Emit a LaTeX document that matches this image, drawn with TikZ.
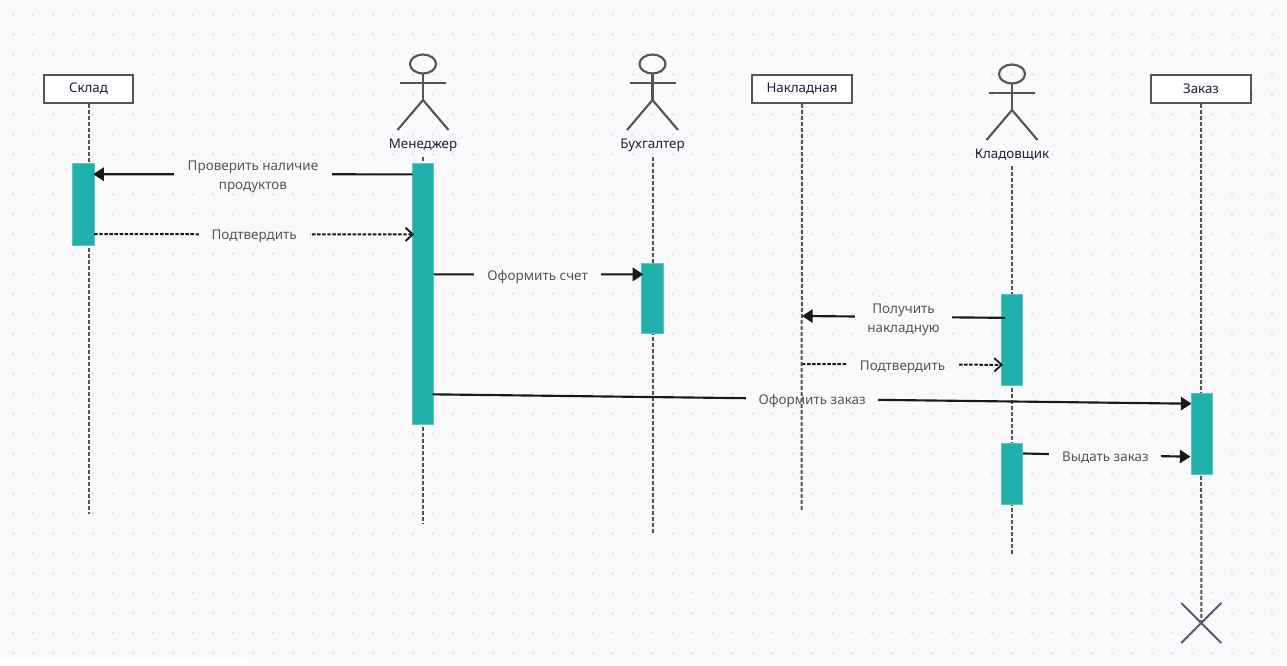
\documentclass[tikz,border=0pt]{standalone}
\usepackage{fontspec}
\setmainfont{Noto Sans}
\usetikzlibrary{arrows.meta,calc}
\definecolor{pagebg}{HTML}{FAFAFC}
\definecolor{griddot}{HTML}{E2E3E7}
\definecolor{stroke}{HTML}{555555}
\definecolor{ink}{HTML}{1A1A1A}
\definecolor{teal}{HTML}{22B0AC}
\definecolor{navy}{HTML}{20203A}
\definecolor{msgtext}{HTML}{555555}
\definecolor{crossc}{HTML}{525B6E}
\pgfdeclarelayer{grid}
\pgfdeclarelayer{life}
\pgfsetlayers{grid,life,main}
\tikzset{
  x=0.75pt,y=-0.75pt,
  objbox/.style={draw=stroke,line width=1.7pt,fill=white,minimum height=21pt,inner sep=0pt,text=navy,font=\fontsize{10}{12}\selectfont},
  actorname/.style={text=navy,inner sep=0pt,font=\fontsize{10}{12}\selectfont},
  actorline/.style={draw=stroke,line width=1.6pt},
  lifeline/.style={draw=stroke,line width=1.5pt,dash pattern=on 3pt off 1.5pt},
  activation/.style={fill=teal,draw=teal!75!white,line width=0.5pt,minimum width=16pt,inner sep=0pt},
  syncmsg/.style={draw=ink,line width=1.6pt,-{Triangle[length=8pt,width=10pt]}},
  replymsg/.style={draw=ink,line width=1.5pt,dash pattern=on 2.6pt off 1.2pt,-{Straight Barb[length=5.5pt,width=10pt,line width=1.4pt]}},
  msglabel/.style={fill=pagebg,text=msgtext,inner sep=0pt,align=center,font=\fontsize{10.1}{14.25}\selectfont},
}
\newcommand{\stickfigure}[2]{%
  \draw[actorline] (#1,#2) ellipse [x radius=13,y radius=9.5];
  \draw[actorline] (#1-23,#2+18.7) -- (#1+23,#2+18.7);
  \draw[actorline] (#1,#2+9.5) -- (#1,#2+36);
  \draw[actorline] (#1-25.5,#2+66) -- (#1,#2+36) -- (#1+25.5,#2+66);
}
\begin{document}
\begin{tikzpicture}
\useasboundingbox (0,0) rectangle (1287,665);
\begin{pgfonlayer}{grid}
  \fill[pagebg] (0,0) rectangle (1287,665);
  \shade[top color=pagebg,bottom color=white,middle color=pagebg!50!white] (0,655) rectangle (250,665);
  \foreach \i in {0,...,64}{\foreach \j in {0,...,32}{
    \fill[griddot] ({13.3+19.98*\i},{14.5+19.96*\j}) circle (1.5);
  }}
\end{pgfonlayer}

% objects
\node[objbox,minimum width=67pt] (sklad) at (88.5,88.7) {\raisebox{-1.5pt}{Склад}};
\node[objbox,minimum width=74.5pt] (nakl) at (802,88.7) {\raisebox{-1.5pt}{Накладная}};
\node[objbox,minimum width=74.5pt] (zakaz) at (1201,88.7) {\raisebox{-1.5pt}{Заказ}};

% actors
\stickfigure{423}{64}
\stickfigure{652.5}{64}
\stickfigure{1012}{74}
\node[actorname] (mgr) at (423,145) {Менеджер};
\node[actorname] (acc) at (652.5,145) {Бухгалтер};
\node[actorname] (kld) at (1012,155) {Кладовщик};

% activation bars
\node[activation,minimum height=61pt] (bS) at (83.2,204.2) {};
\node[activation,minimum height=195.5pt] (bM) at (422.7,294) {};
\node[activation,minimum height=52.5pt] (bB) at (652.4,298.7) {};
\node[activation,minimum height=68pt] (bK) at (1012,339.5) {};
\node[activation,minimum height=46pt] (bKb) at (1012,473.5) {};
\node[activation,minimum height=61pt] (bZ) at (1201.5,433.7) {};

% end marker
\coordinate (zend) at (1201.3,623);
\draw[crossc,line width=1.5pt] ($(zend)+(-20,-20)$) -- ($(zend)+(20,20)$) ($(zend)+(20,-20)$) -- ($(zend)+(-20,20)$);

% lifelines
\coordinate (skladEnd) at (88.5,514);
\coordinate (mgrEnd) at (423,524);
\coordinate (accEnd) at (652.5,533);
\coordinate (kldEnd) at (1012,554);
\coordinate (naklEnd) at (801.5,510);
\begin{pgfonlayer}{life}
  \draw[lifeline] (sklad.south) -- (skladEnd);
  \draw[lifeline] (mgr.south) ++(0,5) -- (mgrEnd);
  \draw[lifeline] (acc.south) ++(0,5) -- (accEnd);
  \draw[lifeline] (kld.south) ++(0,5) -- (kldEnd);
  \draw[lifeline] (zakaz.south) -- (zend);
\end{pgfonlayer}

% messages
\draw[syncmsg] ($(bM.north west)+(1,11)$) -- node[msglabel,minimum width=118.5pt,yshift=-2pt] (m1) {Проверить наличие\\продуктов} ($(bS.north east)+(-1,11)$);
\draw[replymsg] ($(bS.north east)+(0,71)$) -- node[msglabel,minimum width=83pt,minimum height=14pt,yshift=-1.8pt] (m2) {Подтвердить} ($(bM.north west)+(2.5,71)$);
\draw[syncmsg] ($(bM.north east)+(0,111)$) -- node[msglabel,minimum width=95pt,minimum height=14pt,yshift=-1.8pt,xshift=-0.7pt] (m3) {Оформить счет} ($(bB.north west)+(2,11)$);
\coordinate (n4) at (802,316);
\coordinate (n5) at (802,364);
\draw[syncmsg] ($(bK.north west)+(4,24)$) -- node[msglabel,minimum width=73pt,yshift=-2.3pt] (m4) {Получить\\накладную} (n4);
\draw[replymsg] (n5) -- node[msglabel,minimum width=83pt,minimum height=14pt,yshift=-1.8pt] (m5) {Подтвердить} ($(bK.north west)+(2,71)$);
\draw[syncmsg] ($(bM.north east)+(-1,231)$) -- node[msglabel,minimum width=99pt,minimum height=14pt,yshift=-1.6pt] (m6) {Оформить заказ} ($(bZ.north west)+(1,11)$);
\draw[syncmsg] ($(bKb.north east)+(0,11)$) -- node[msglabel,minimum width=84pt,minimum height=14pt,xshift=-1pt,yshift=-1.6pt] (m7) {Выдать заказ} ($(bZ.north west)+(0,64)$);

% lifeline of Накладная runs over the message labels
\draw[lifeline] (nakl.south) -- (naklEnd);
\end{tikzpicture}
\end{document}
